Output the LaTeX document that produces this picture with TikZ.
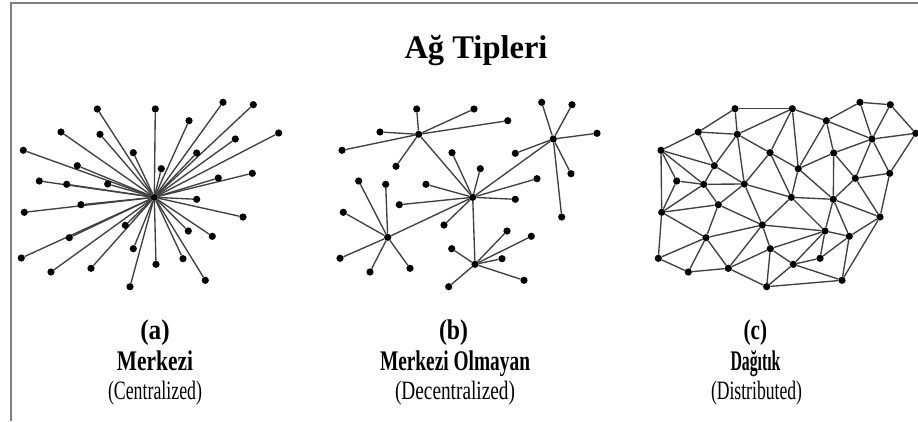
\documentclass[tikz,border=0pt]{standalone}
\usepackage{fontspec}
\setmainfont{Liberation Serif}
\usetikzlibrary{backgrounds}
\tikzset{
  dot/.style={circle,fill=black,inner sep=0pt,minimum size=7.2pt},
  link/.style={draw=black!75,line width=1.35pt},
  frameline/.style={draw=black!50,line width=1.6pt},
  caption/.style={anchor=base,inner sep=0pt},
}
% squeeze a text horizontally to a given width, keeping its height
\newcommand\fitto[2]{\resizebox{#1}{\height}{#2}}
\newcommand\boldtext{\fontsize{28.4}{30}\selectfont\bfseries}
\newcommand\plaintext{\fontsize{26.5}{28}\selectfont}

\begin{document}
\begin{tikzpicture}[x=1pt,y=-1pt]
\useasboundingbox (0,0) rectangle (918,421);

% frame
\coordinate (fb) at (11,421);
\coordinate (ft) at (11,3);
\coordinate (fr) at (918,3);
\draw[frameline] (fb) -- (ft) -- (fr);

% title
\node[caption] (title) at (476,58.5) {\fontsize{33}{35}\selectfont\bfseries\fitto{143pt}{Ağ Tipleri}};

% ---------- (a) centralized ----------
\node[dot] (a0) at (154.3,197.3) {};
\foreach \x/\y [count=\i] in {97.3/109,155.3/109,223/102.3,253.3/104.7,189/120.7,61/132,100/134.3,
  235.3/139,278.7/133,23.3/150.3,133.3/152.7,196.7/153,77.3/165.7,161.3/168.7,39.3/181,66.7/184.3,
  107.7/184,218.3/178,252.3/173.3,196.7/199.3,24.3/212.3,81/204.7,243/217,125.3/225.3,188.3/231,
  212.3/236.3,69.3/237.7,133.3/248.7,21.3/258,183/258.7,156/264.3,91/268.3,51/272,205.3/280.3,130/286.7}
  \node[dot] (a\i) at (\x,\y) {};
\begin{scope}[on background layer]
  \foreach \i in {1,...,35} \draw[link] (a0) -- (a\i);
\end{scope}

% ---------- (b) decentralized ----------
\node[dot] (b1) at (418.7,134.3) {};
\node[dot] (b2) at (472.7,197.3) {};
\node[dot] (b3) at (553.3,139) {};
\node[dot] (b4) at (387.7,237.3) {};
\node[dot] (b5) at (475,264.3) {};
\def\bleaves{1/416.7/109,1/474/109,1/507.7/120.7,1/380/132,1/342/150.3,1/396/166.3,
  2/452/152.7,2/480.3/168.7,2/426/184.3,2/537/178.7,2/515.3/199.3,2/399.3/204.7,2/444/225,
  3/541.7/102.3,3/572/104.7,3/597/133.3,3/515.3/153.3,3/571/173.7,3/561.7/217,
  4/358.7/181,4/385.7/184.3,4/343.3/212.3,4/340/258.3,4/370/272,4/410/268.3,
  5/451.7/248.7,5/507/231,5/531.3/236.3,5/502/258.7,5/524/280.3,5/448.7/286.7}
\foreach \h/\x/\y [count=\i] in \bleaves \node[dot] (bl\i) at (\x,\y) {};
\begin{scope}[on background layer]
  \foreach \h/\x/\y [count=\i] in \bleaves \draw[link] (b\h) -- (bl\i);
  \foreach \h in {1,3,4,5} \draw[link] (b2) -- (b\h);
\end{scope}

% ---------- (c) distributed ----------
\foreach \x/\y [count=\i] in {661/150.3,698.3/132,735/108.7,792.3/108.7,826.3/120.7,860/102.3,
  890.3/104.7,915.7/133.3,737.3/134.3,872/139,770/152.7,833.7/153,714.3/165.7,798.3/168.7,
  676.7/181,703.7/184.3,744.3/184,855.3/178.3,889.7/173.3,791.3/197.3,833.3/199.3,661.7/212.3,
  718.3/204.7,880/217,762.3/225,825/231,849.3/236.3,706/237.7,770.3/248.7,658.3/258.3,
  820/258.3,793.3/264.3,728.3/268.3,688.3/272,842/280.3,766.7/286.7}
  \node[dot] (c\i) at (\x,\y) {};
\begin{scope}[on background layer]
  \foreach \u/\v in {1/2,2/3,3/4,4/5,5/6,6/7,7/8,1/22,22/30,30/34,34/33,33/36,36/35,35/24,24/19,19/8,
    2/9,2/13,3/9,9/4,9/13,9/11,9/17,4/11,4/14,5/14,5/12,5/10,6/10,7/10,8/10,10/12,10/18,10/19,
    12/14,12/18,12/21,14/11,14/20,14/21,18/19,18/21,18/24,21/20,21/26,21/27,21/24,11/17,11/20,
    13/1,13/16,13/17,1/15,1/16,15/16,15/22,16/17,16/22,16/23,17/23,17/25,17/20,22/23,23/25,23/28,
    22/28,25/28,25/29,25/33,25/26,25/20,20/26,26/27,26/31,26/32,26/29,28/30,28/34,28/33,29/33,
    29/36,29/32,32/36,32/31,32/35,31/27,35/27,27/24}
    \draw[link] (c\u) -- (c\v);
\end{scope}

% captions
\node[caption] (la1) at (155,339) {\boldtext\fitto{29.5pt}{(a)}};
\node[caption] (la2) at (155,370.3) {\boldtext\fitto{76pt}{Merkezi}};
\node[caption] (la3) at (155,399) {\plaintext\fitto{94pt}{(Centralized)}};
\node[caption] (lb1) at (453.5,339) {\boldtext\fitto{29pt}{(b)}};
\node[caption] (lb2) at (455,370.3) {\boldtext\fitto{150pt}{Merkezi Olmayan}};
\node[caption] (lb3) at (455,399) {\plaintext\fitto{120pt}{(Decentralized)}};
\node[caption] (lc1) at (755.3,339) {\boldtext\fitto{23.5pt}{(c)}};
\node[caption] (lc2) at (755.5,370.3) {\boldtext\fitto{50pt}{Dağıtık}};
\node[caption] (lc3) at (756.5,399) {\plaintext\fitto{91pt}{(Distributed)}};
\end{tikzpicture}
\end{document}
